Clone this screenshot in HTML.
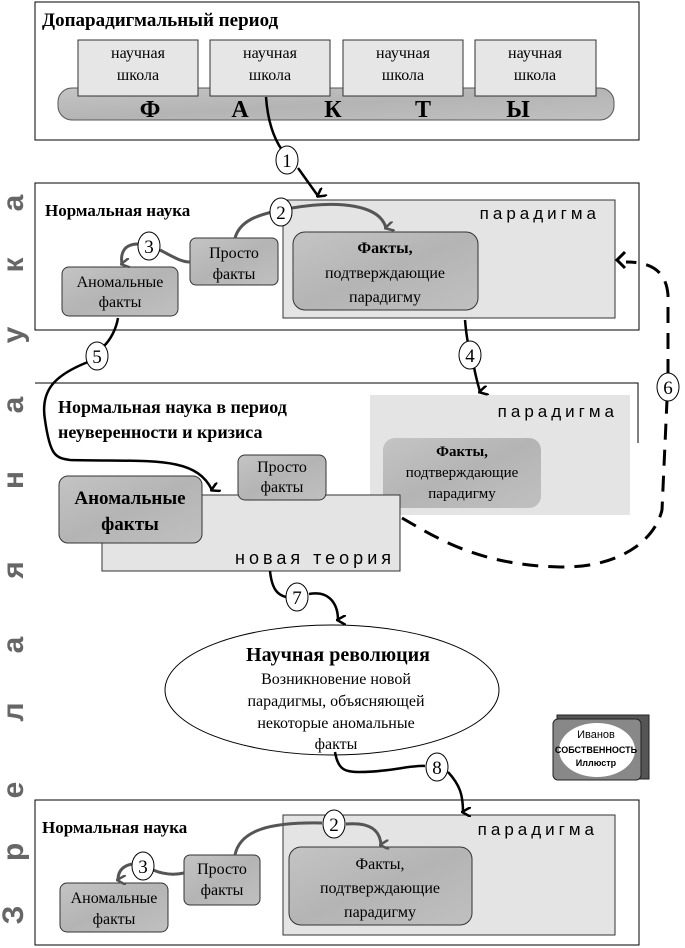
<!DOCTYPE html>
<html><head><meta charset="utf-8"><style>
html,body{margin:0;padding:0;background:#fff;}
svg{display:block;}
text{font-family:"Liberation Serif","Noto Serif CJK SC",serif;}
text.v{font-family:"Liberation Sans","DejaVu Sans",sans-serif;}
</style></head><body>
<svg width="685" height="948" viewBox="0 0 685 948" xmlns="http://www.w3.org/2000/svg">
<defs>
<marker id="ah" markerWidth="10" markerHeight="10" refX="5" refY="8" orient="auto-start-reverse" markerUnits="userSpaceOnUse" viewBox="0 0 10 10">
<path d="M0,0 L5,9 L10,0" fill="none" stroke="#000" stroke-width="2.5"/>
</marker>
<marker id="ahg" markerWidth="10" markerHeight="10" refX="5" refY="8" orient="auto" markerUnits="userSpaceOnUse" viewBox="0 0 10 10">
<path d="M0,0 L5,9 L10,0" fill="none" stroke="#555" stroke-width="2.5"/>
</marker>
<linearGradient id="tex" x1="0" y1="0" x2="1" y2="1">
<stop offset="0" stop-color="#c4c4c4"/><stop offset="0.5" stop-color="#b4b4b4"/><stop offset="1" stop-color="#c0c0c0"/>
</linearGradient>
</defs>

<!-- vertical label -->
<g font-size="30" font-weight="bold" fill="#666" text-anchor="middle">
<text class="v" transform="translate(23,915) rotate(-90)">З</text>
<text class="v" transform="translate(23,852) rotate(-90)">р</text>
<text class="v" transform="translate(23,790) rotate(-90)">е</text>
<text class="v" transform="translate(23,712) rotate(-90)">л</text>
<text class="v" transform="translate(23,645) rotate(-90)">а</text>
<text class="v" transform="translate(23,570) rotate(-90)">я</text>
<text class="v" transform="translate(23,480) rotate(-90)">н</text>
<text class="v" transform="translate(23,405) rotate(-90)">а</text>
<text class="v" transform="translate(23,335) rotate(-90)">у</text>
<text class="v" transform="translate(23,265) rotate(-90)">к</text>
<text class="v" transform="translate(23,203) rotate(-90)">а</text>
</g>

<!-- Box 1 -->
<rect x="35" y="2" width="604" height="138" fill="#fff" stroke="#000"/>
<text x="42" y="26" font-size="19" font-weight="bold">Допарадигмальный период</text>
<rect x="58" y="88" width="556" height="32" rx="14" fill="url(#tex)" stroke="#555"/>
<g font-size="16" text-anchor="middle">
<rect x="78" y="40" width="120" height="56" fill="#e6e6e6" stroke="#333"/>
<text x="138" y="58">научная</text><text x="138" y="80">школа</text>
<rect x="210" y="40" width="120" height="56" fill="#e6e6e6" stroke="#333"/>
<text x="270" y="58">научная</text><text x="270" y="80">школа</text>
<rect x="343" y="40" width="120" height="56" fill="#e6e6e6" stroke="#333"/>
<text x="403" y="58">научная</text><text x="403" y="80">школа</text>
<rect x="475" y="40" width="121" height="56" fill="#e6e6e6" stroke="#333"/>
<text x="535" y="58">научная</text><text x="535" y="80">школа</text>
</g>
<g font-size="24" font-weight="bold" text-anchor="middle">
<text x="150" y="117">Ф</text><text x="240" y="117">А</text><text x="333" y="117">К</text><text x="423" y="117">Т</text><text x="518" y="117">Ы</text>
</g>

<!-- Box 2 -->
<rect x="35" y="183" width="604" height="147" fill="#fff" stroke="#000"/>
<text x="45" y="216" font-size="17" font-weight="bold">Нормальная наука</text>
<rect x="283" y="200" width="332" height="118" fill="#e4e4e4" stroke="#333"/>
<text x="600" y="219" font-size="17" text-anchor="end" letter-spacing="4" class="v">парадигма</text>
<rect x="293" y="232" width="185" height="78" rx="12" fill="url(#tex)" stroke="#333"/>
<g font-size="16" text-anchor="middle"><text x="385" y="253" font-weight="bold">Факты,</text><text x="385" y="278">подтверждающие</text><text x="385" y="302">парадигму</text></g>
<rect x="190" y="238" width="88" height="47" rx="6" fill="url(#tex)" stroke="#333"/>
<g font-size="16" text-anchor="middle"><text x="234" y="258">Просто</text><text x="234" y="279">факты</text></g>
<rect x="62" y="267" width="116" height="49" rx="7" fill="url(#tex)" stroke="#333"/>
<g font-size="16" text-anchor="middle"><text x="120" y="287">Аномальные</text><text x="120" y="307">факты</text></g>
<path d="M235,238 C240,220 260,215 272,212" fill="none" stroke="#555" stroke-width="3"/>
<path d="M292,208 C340,200 380,205 386,228" fill="none" stroke="#555" stroke-width="3" marker-end="url(#ahg)"/>
<path d="M160,250 C175,258 182,262 190,262" fill="none" stroke="#555" stroke-width="3"/>
<path d="M138,244 C125,244 120,252 122,264" fill="none" stroke="#555" stroke-width="3" marker-end="url(#ahg)"/>

<!-- arrow 1 -->
<path d="M266,97 C268,125 275,140 282,150" fill="none" stroke="#000" stroke-width="2.5"/>
<path d="M298,168 L318,196" fill="none" stroke="#000" stroke-width="2.5" marker-end="url(#ah)"/>

<!-- Box 3 -->
<path d="M35,383 L638,383 L638,443" fill="none" stroke="#000"/>
<rect x="370" y="395" width="260" height="120" fill="#e4e4e4"/>
<text x="618" y="417" font-size="17" text-anchor="end" letter-spacing="4" class="v">парадигма</text>
<rect x="383" y="438" width="158" height="70" rx="12" fill="url(#tex)"/>
<g font-size="15" text-anchor="middle"><text x="462" y="456" font-weight="bold">Факты,</text><text x="462" y="477">подтверждающие</text><text x="462" y="498">парадигму</text></g>
<text x="58" y="413" font-size="18" font-weight="bold">Нормальная наука в период</text>
<text x="58" y="438" font-size="18" font-weight="bold">неуверенности и кризиса</text>
<rect x="102" y="495" width="298" height="76" fill="#e4e4e4" stroke="#333"/>
<text x="395" y="564" font-size="18" text-anchor="end" letter-spacing="4" class="v">новая теория</text>
<rect x="59" y="476" width="143" height="67" rx="9" fill="url(#tex)" stroke="#333"/>
<g font-size="19" font-weight="bold" text-anchor="middle"><text x="130" y="504">Аномальные</text><text x="130" y="530">факты</text></g>
<rect x="238" y="455" width="88" height="45" rx="7" fill="url(#tex)" stroke="#333"/>
<g font-size="16" text-anchor="middle"><text x="282" y="472">Просто</text><text x="282" y="492">факты</text></g>

<!-- arrow 4 -->
<path d="M465,320 C466,332 467,338 468,343" fill="none" stroke="#000" stroke-width="2.5"/>
<path d="M474,367 C476,378 478,384 480,392" fill="none" stroke="#000" stroke-width="2.5" marker-end="url(#ah)"/>
<!-- arrow 5 -->
<path d="M118,318 C116,330 110,340 104,346" fill="none" stroke="#000" stroke-width="2.5"/>
<path d="M88,362 C55,375 40,390 45,420 C50,455 55,458 70,460 C150,462 195,455 212,490" fill="none" stroke="#000" stroke-width="2.5" marker-end="url(#ah)"/>
<!-- dashed 6 -->
<path d="M402,518 C440,540 480,565 560,567 C620,568 655,540 662,510 L667,400" fill="none" stroke="#000" stroke-width="3" stroke-dasharray="16,10"/>
<path d="M668,375 L668,295 C666,270 650,262 626,262" fill="none" stroke="#000" stroke-width="3" stroke-dasharray="16,10"/>
<path d="M625,252 L617,260 L625,268" fill="none" stroke="#000" stroke-width="3"/>
<!-- arrow 7 -->
<path d="M270,571 C272,590 278,595 286,597" fill="none" stroke="#000" stroke-width="2.5"/>
<path d="M309,594 C330,590 338,605 338,620" fill="none" stroke="#000" stroke-width="2.5" marker-end="url(#ah)"/>
<!-- ellipse -->
<ellipse cx="332" cy="690" rx="167" ry="65" fill="#fff" stroke="#000"/>
<text x="338" y="661" font-size="20" font-weight="bold" text-anchor="middle">Научная революция</text>
<g font-size="16" text-anchor="middle"><text x="336" y="684">Возникновение новой</text><text x="336" y="706">парадигмы, объясняющей</text><text x="336" y="728">некоторые аномальные</text><text x="336" y="749">факты</text></g>
<!-- logo -->
<rect x="557" y="715" width="92" height="64" fill="#555" stroke="#222"/>
<rect x="553" y="719" width="88" height="61" rx="5" fill="#888" stroke="#222"/>
<ellipse cx="597" cy="750" rx="38" ry="27" fill="#fff"/>
<text x="596" y="738" font-size="11" text-anchor="middle" class="v">Иванов</text>
<text x="596" y="753" font-size="9" font-weight="bold" text-anchor="middle" class="v">СОБСТВЕННОСТЬ</text>
<text x="596" y="766" font-size="9" font-weight="bold" text-anchor="middle" class="v">Иллюстр</text>

<!-- Box 4 -->
<rect x="35" y="800" width="604" height="145" fill="#fff" stroke="#000"/>
<text x="42" y="833" font-size="17" font-weight="bold">Нормальная наука</text>
<rect x="283" y="815" width="332" height="120" fill="#e4e4e4" stroke="#333"/>
<text x="598" y="835" font-size="17" text-anchor="end" letter-spacing="4" class="v">парадигма</text>
<rect x="289" y="847" width="183" height="78" rx="12" fill="url(#tex)" stroke="#333"/>
<g font-size="16" text-anchor="middle"><text x="380" y="869">Факты,</text><text x="380" y="893">подтверждающие</text><text x="380" y="917">парадигму</text></g>
<rect x="184" y="855" width="76" height="50" rx="6" fill="url(#tex)" stroke="#333"/>
<g font-size="16" text-anchor="middle"><text x="222" y="874">Просто</text><text x="222" y="895">факты</text></g>
<rect x="60" y="883" width="108" height="49" rx="7" fill="url(#tex)" stroke="#333"/>
<g font-size="16" text-anchor="middle"><text x="114" y="903">Аномальные</text><text x="114" y="924">факты</text></g>
<path d="M235,855 C240,830 270,822 322,823" fill="none" stroke="#555" stroke-width="3"/>
<path d="M346,824 C370,822 380,830 381,845" fill="none" stroke="#555" stroke-width="3" marker-end="url(#ahg)"/>
<path d="M153,870 C165,875 175,875 184,873" fill="none" stroke="#555" stroke-width="3"/>
<path d="M132,864 C122,866 118,872 118,880" fill="none" stroke="#555" stroke-width="3" marker-end="url(#ahg)"/>

<!-- arrow 8 -->
<path d="M335,752 C338,770 345,772 360,772 C390,772 410,765 425,766" fill="none" stroke="#000" stroke-width="2.5"/>
<path d="M448,772 C460,785 463,795 463,812" fill="none" stroke="#000" stroke-width="2.5" marker-end="url(#ah)"/>

<!-- circles -->
<g fill="#fff" stroke="#000" font-size="19" text-anchor="middle">
<ellipse cx="287" cy="160" rx="11" ry="14"/><text x="287" y="167" stroke="none" fill="#000">1</text>
<ellipse cx="281" cy="212" rx="11" ry="14"/><text x="281" y="219" stroke="none" fill="#000">2</text>
<ellipse cx="149" cy="246" rx="11" ry="14"/><text x="149" y="253" stroke="none" fill="#000">3</text>
<ellipse cx="470" cy="355" rx="11" ry="14"/><text x="470" y="362" stroke="none" fill="#000">4</text>
<ellipse cx="97" cy="356" rx="11" ry="14"/><text x="97" y="363" stroke="none" fill="#000">5</text>
<ellipse cx="668" cy="387" rx="11" ry="14"/><text x="668" y="394" stroke="none" fill="#000">6</text>
<ellipse cx="297" cy="597" rx="11" ry="14"/><text x="297" y="604" stroke="none" fill="#000">7</text>
<ellipse cx="437" cy="767" rx="11" ry="14"/><text x="437" y="774" stroke="none" fill="#000">8</text>
<ellipse cx="334" cy="824" rx="11" ry="14"/><text x="334" y="831" stroke="none" fill="#000">2</text>
<ellipse cx="143" cy="866" rx="11" ry="14"/><text x="143" y="873" stroke="none" fill="#000">3</text>
</g>
</svg>
</body></html>
